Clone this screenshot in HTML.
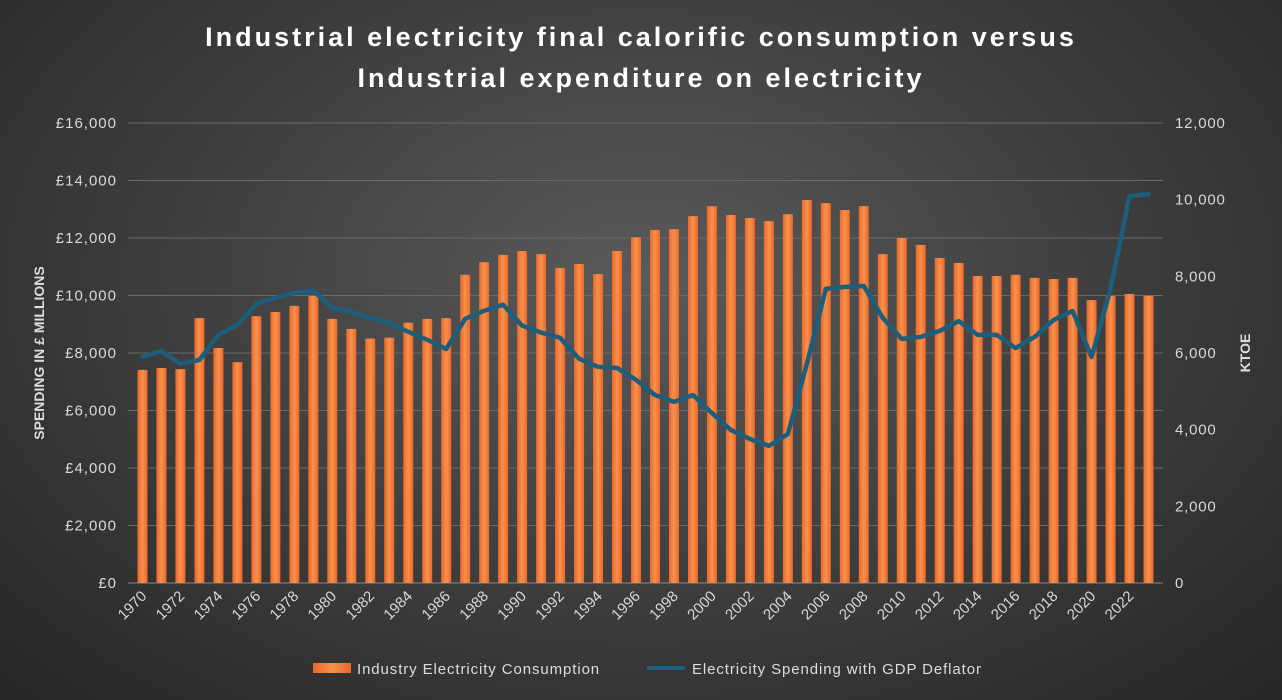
<!DOCTYPE html>
<html><head><meta charset="utf-8"><style>
body{margin:0;width:1282px;height:700px;overflow:hidden;background:radial-gradient(ellipse at 50% 40%,#5a5a5a 0%,#3c3c3c 55%,#262626 100%);font-family:"Liberation Sans",sans-serif}
svg{position:absolute;left:0;top:0}
</style></head><body>
<svg id="c" width="1282" height="700">
<defs><linearGradient id="bg" x1="0" x2="1"><stop offset="0" stop-color="#e8682a"/><stop offset="0.5" stop-color="#f9914c"/><stop offset="1" stop-color="#e8682a"/></linearGradient></defs>
<text x="641" y="46" text-anchor="middle" fill="#fff" font-size="27" font-weight="bold" letter-spacing="3">Industrial electricity final calorific consumption versus</text>
<text x="641" y="87" text-anchor="middle" fill="#fff" font-size="27" font-weight="bold" letter-spacing="3">Industrial expenditure on electricity</text>
<text transform="translate(44,353) rotate(-90)" text-anchor="middle" fill="#ddd" font-size="14" font-weight="bold">SPENDING IN £ MILLIONS</text>
<text transform="translate(1250,353) rotate(-90)" text-anchor="middle" fill="#ddd" font-size="14" font-weight="bold">KTOE</text>
<g id="grid"></g><g id="bars"></g><g id="line"></g><g id="ax"></g>
<rect x="313" y="663" width="38" height="10" fill="url(#bg)"/>
<text x="357" y="674" fill="#ddd" font-size="15" letter-spacing="0.9">Industry Electricity Consumption</text>
<line x1="647" y1="668" x2="685" y2="668" stroke="#1d5e7c" stroke-width="4"/>
<text x="692" y="674" fill="#ddd" font-size="15" letter-spacing="0.9">Electricity Spending with GDP Deflator</text>
</svg>
<script>
const years=[];for(let y=1970;y<=2023;y++)years.push(y);
const consumption=[5560,5610,5580,6910,6130,5760,6960,7070,7230,7490,6890,6630,6380,6400,6790,6890,6910,8040,8370,8560,8660,8580,8220,8320,8060,8660,9020,9210,9230,9570,9830,9600,9520,9440,9620,9990,9910,9730,9830,8580,9000,8820,8480,8350,8010,8010,8040,7960,7930,7960,7380,7490,7540,7490];
const spending=[7860,8070,7620,7760,8630,8980,9710,9920,10090,10160,9570,9430,9220,9050,8740,8460,8140,9190,9470,9680,8950,8710,8530,7800,7520,7480,7070,6540,6300,6540,5910,5320,5010,4770,5180,7620,10230,10300,10330,9220,8490,8560,8770,9110,8630,8630,8170,8560,9150,9460,7860,10230,13460,13530];
const leftTicks=[0,2000,4000,6000,8000,10000,12000,14000,16000];
const rightTicks=[0,2000,4000,6000,8000,10000,12000];
const X0=133,X1=1158,Y0=583,Y1=123;
const bw=(X1-X0)/years.length;
const xc=i=>X0+bw*(i+0.5);
const yL=v=>Y0-(v/16000)*(Y0-Y1);
const yR=v=>Y0-(v/12000)*(Y0-Y1);
const NS="http://www.w3.org/2000/svg";
function mk(t,a,p){const e=document.createElementNS(NS,t);for(const k in a)e.setAttribute(k,a[k]);p.appendChild(e);return e;}
const grid=document.getElementById('grid'),ax=document.getElementById('ax'),bars=document.getElementById('bars'),line=document.getElementById('line');
leftTicks.forEach(v=>{
 const g=mk('line',{x1:X0-5,x2:X1+5,y1:yL(v),y2:yL(v),stroke:v?'#6a6a6a':'#888','stroke-width':1},grid);
 
 
 const t=mk('text',{x:117,y:yL(v)+5,'text-anchor':'end',fill:'#d8d8d8','font-size':15,'letter-spacing':1},ax);
 t.textContent='£'+v.toLocaleString('en-US');
 
 
});
rightTicks.forEach(v=>{
 const t=mk('text',{x:1175,y:yR(v)+5,fill:'#d8d8d8','font-size':15,'letter-spacing':0.8},ax);
 t.textContent=v.toLocaleString('en-US');
 
 
});
consumption.forEach((v,i)=>{
 const b=mk('rect',{x:xc(i)-5,y:yR(v),width:10,height:Y0-yR(v),fill:'url(#bg)'},bars);
 
 
});
const pts=spending.map((v,i)=>xc(i)+','+yL(v)).join(' ');
const pl=mk('polyline',{points:pts,fill:'none',stroke:'#1d5e7c','stroke-width':4.5,'stroke-linejoin':'round','stroke-linecap':'round'},line);


years.forEach((y,i)=>{
 if(i%2)return;
 const t=mk('text',{transform:`translate(${xc(i)+5},${Y0+14}) rotate(-45)`,'text-anchor':'end',fill:'#d8d8d8','font-size':15},ax);
 t.textContent=y;
 
 
});
</script>
</body></html>
